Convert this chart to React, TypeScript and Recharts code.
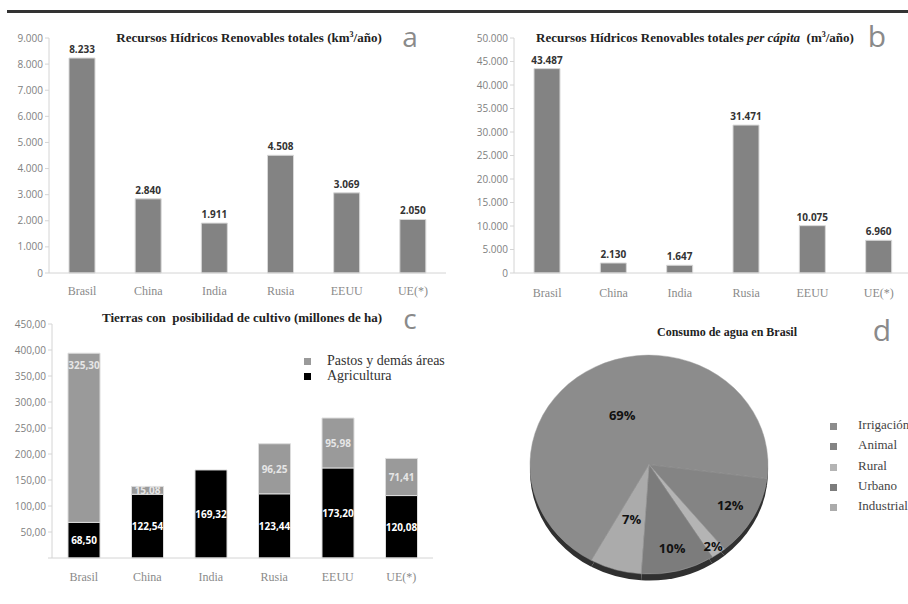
import React from 'react';
import { BarChart, Bar, XAxis, YAxis, LabelList, PieChart, Pie, Cell } from 'recharts';

// ---------- data ----------
const categories = ['Brasil', 'China', 'India', 'Rusia', 'EEUU', 'UE(*)'];
const totalRenewable = [8233, 2840, 1911, 4508, 3069, 2050];
const perCapita = [43487, 2130, 1647, 31471, 10075, 6960];
const agricultura = [68.5, 122.54, 169.32, 123.44, 173.2, 120.08];
const pastos = [325.3, 15.08, 0, 96.25, 95.98, 71.41];
const ticksA = [0, 1000, 2000, 3000, 4000, 5000, 6000, 7000, 8000, 9000];
const ticksB = [0, 5000, 10000, 15000, 20000, 25000, 30000, 35000, 40000, 45000, 50000];
const ticksC = [0, 50, 100, 150, 200, 250, 300, 350, 400, 450];
const usoNames = ['Irrigación', 'Animal', 'Rural', 'Urbano', 'Industrial'];
const usoPct = [69, 12, 2, 10, 7];

const dataA = categories.map((c, i) => ({ name: c, value: totalRenewable[i] }));
const dataB = categories.map((c, i) => ({ name: c, value: perCapita[i] }));
const dataC = categories.map((c, i) => ({ name: c, agri: agricultura[i], pastos: pastos[i] }));
const dataD = usoNames.map((n, i) => ({ name: n, value: usoPct[i] }));

// ---------- styles ----------
const SERIF = '"Liberation Serif", "DejaVu Serif", serif';
const SANS = '"Open Sans", "Liberation Sans", sans-serif';
const pieColors = ['#8c8c8c', '#848484', '#b4b4b4', '#7c7c7c', '#ababab'];
const pieLabelR = [0.5, 0.78, 0.92, 0.79, 0.52];

const thousands = (v: number) => String(v).replace(/\B(?=(\d{3})+(?!\d))/g, '.');
const comma2 = (v: number) => v.toFixed(2).replace('.', ',');

const yTick = { fontFamily: SANS, fontSize: 10, fill: '#808080' };
const xTick = { fontFamily: SERIF, fontSize: 12, fill: '#8a8a8a' };
const axisLine = { stroke: '#d4d4d4' };

const titleStyle: React.CSSProperties = {
  position: 'absolute',
  fontFamily: SERIF,
  fontWeight: 'bold',
  fontSize: 13,
  color: '#222',
  whiteSpace: 'nowrap',
  transform: 'translate(-50%, -50%)',
};
const letterStyle: React.CSSProperties = {
  position: 'absolute',
  fontFamily: SANS,
  fontSize: 28,
  color: '#8a8a8a',
  transform: 'translate(-50%, -50%)',
  lineHeight: 1,
};

const CLabelGray = (props: any) => {
  const { x, y, width, height, value } = props;
  if (!value) return null;
  const ty = height > 100 ? y + 12 : y + height / 2;
  return (
    <text x={x + width / 2} y={ty} textAnchor="middle" dominantBaseline="central"
      fontFamily={SANS} fontWeight="bold" fontSize={10} fill="#e6e6e6">{comma2(value)}</text>
  );
};
const CLabelBlack = (props: any) => {
  const { x, y, width, height, value } = props;
  return (
    <text x={x + width / 2} y={y + height / 2} textAnchor="middle" dominantBaseline="central"
      fontFamily={SANS} fontWeight="bold" fontSize={10} fill="#ffffff">{comma2(value)}</text>
  );
};

const RAD = Math.PI / 180;
const PieLabel = (props: any) => {
  const { cx, cy, midAngle, outerRadius, index, value } = props;
  const r = outerRadius * pieLabelR[index];
  const x = cx + r * Math.cos(-midAngle * RAD);
  const y = cy + r * Math.sin(-midAngle * RAD);
  return (
    <text x={x} y={y} textAnchor="middle" dominantBaseline="central"
      fontFamily={SANS} fontWeight="bold" fontSize={13} fill="#111">{value}%</text>
  );
};

export default function App() {
  return (
    <div style={{ position: 'absolute', left: 0, top: 0, width: 908, height: 604, background: '#fff', overflow: 'hidden' }}>
      {/* top rule */}
      <div style={{ position: 'absolute', left: 7, top: 10, width: 901, height: 3, background: '#333' }} />

      {/* Panel a */}
      <div style={{ position: 'absolute', left: 0, top: 0 }}>
        <BarChart width={454} height={300} data={dataA} margin={{ top: 38, right: 8, bottom: 0, left: 0 }}>
          <YAxis width={49} domain={[0, 9000]} ticks={ticksA} tickFormatter={thousands} tick={yTick}
            axisLine={axisLine} tickLine={{ stroke: '#d4d4d4' }} tickSize={4} tickMargin={2} interval={0} />
          <XAxis dataKey="name" height={27} tick={xTick} axisLine={axisLine} tickLine={false} tickMargin={7} interval={0} />
          <Bar dataKey="value" fill="#838383" stroke="#d8d8d8" strokeWidth={1} barSize={26} isAnimationActive={false}>
            <LabelList dataKey="value" position="top" offset={5} formatter={(v: any) => thousands(v)}
              style={{ fontFamily: SANS, fontWeight: 'bold', fontSize: 10, fill: '#333' }} />
          </Bar>
        </BarChart>
      </div>
      <div style={{ ...titleStyle, left: 249, top: 38 }}>
        Recursos Hídricos Renovables totales (km<sup style={{ fontSize: 8 }}>3</sup>/año)
      </div>
      <div style={{ ...letterStyle, left: 410, top: 36 }}>a</div>

      {/* Panel b */}
      <div style={{ position: 'absolute', left: 454, top: 0 }}>
        <BarChart width={454} height={300} data={dataB} margin={{ top: 38, right: -4, bottom: 0, left: 0 }}>
          <YAxis width={60} domain={[0, 50000]} ticks={ticksB} tickFormatter={thousands} tick={yTick}
            axisLine={axisLine} tickLine={{ stroke: '#d4d4d4' }} tickSize={4} tickMargin={2} interval={0} />
          <XAxis dataKey="name" height={27} tick={xTick} axisLine={axisLine} tickLine={false} tickMargin={9} interval={0} />
          <Bar dataKey="value" fill="#838383" stroke="#d8d8d8" strokeWidth={1} barSize={26} isAnimationActive={false}>
            <LabelList dataKey="value" position="top" offset={5} formatter={(v: any) => thousands(v)}
              style={{ fontFamily: SANS, fontWeight: 'bold', fontSize: 10, fill: '#333' }} />
          </Bar>
        </BarChart>
      </div>
      <div style={{ ...titleStyle, left: 695, top: 38 }}>
        Recursos Hídricos Renovables totales <i>per cápita</i> &nbsp;(m<sup style={{ fontSize: 8 }}>3</sup>/año)
      </div>
      <div style={{ ...letterStyle, left: 877, top: 36, fontSize: 30 }}>b</div>

      {/* Panel c */}
      <div style={{ position: 'absolute', left: 0, top: 300 }}>
        <BarChart width={454} height={304} data={dataC} margin={{ top: 24, right: 21, bottom: 0, left: 0 }}>
          <YAxis width={52} domain={[0, 450]} ticks={ticksC} tickFormatter={(v: number) => (v === 0 ? '' : comma2(v))}
            tick={yTick} axisLine={axisLine} tickLine={{ stroke: '#d4d4d4' }} tickSize={4} tickMargin={2} interval={0} />
          <XAxis dataKey="name" height={46} tick={xTick} axisLine={axisLine} tickLine={false} tickMargin={8} interval={0} />
          <Bar dataKey="agri" stackId="s" fill="#000000" stroke="#dcdcdc" strokeWidth={1} barSize={32} isAnimationActive={false}>
            <LabelList dataKey="agri" content={CLabelBlack} />
          </Bar>
          <Bar dataKey="pastos" stackId="s" fill="#9a9a9a" stroke="#dcdcdc" strokeWidth={1} barSize={32} isAnimationActive={false}>
            <LabelList dataKey="pastos" content={CLabelGray} />
          </Bar>
        </BarChart>
      </div>
      <div style={{ ...titleStyle, left: 242, top: 318 }}>
        Tierras con &nbsp;posibilidad de cultivo (millones de ha)
      </div>
      <div style={{ ...letterStyle, left: 410, top: 318 }}>c</div>
      <div style={{ position: 'absolute', left: 304, top: 358, width: 7, height: 7, background: '#9a9a9a' }} />
      <div style={{ position: 'absolute', left: 304, top: 373, width: 7, height: 7, background: '#000' }} />
      <div style={{ position: 'absolute', left: 327, top: 352, fontFamily: SERIF, fontSize: 14, color: '#333', lineHeight: '17px', whiteSpace: 'nowrap' }}>
        <div>Pastos y demás áreas</div>
        <div style={{ marginTop: -2 }}>Agricultura</div>
      </div>

      {/* Panel d */}
      <div style={{ position: 'absolute', left: 454, top: 300, transform: 'scaleY(0.92)', transformOrigin: '0px 160px' }}>
        <PieChart width={454} height={304}>
          <Pie data={dataD} dataKey="value" nameKey="name" cx={190} cy={167} outerRadius={119}
            startAngle={241} endAngle={-119} fill="#303030" stroke="none" isAnimationActive={false} />
          <Pie data={dataD} dataKey="value" nameKey="name" cx={190} cy={160} outerRadius={119}
            startAngle={241} endAngle={-119} stroke="#a0a0a0" strokeWidth={0.5} isAnimationActive={false}
            label={PieLabel} labelLine={false}>
            {dataD.map((d, i) => (
              <Cell key={d.name} fill={pieColors[i]} />
            ))}
          </Pie>
        </PieChart>
      </div>
      <div style={{ ...titleStyle, left: 727, top: 332, fontSize: 12 }}>Consumo de agua en Brasil</div>
      <div style={{ ...letterStyle, left: 882, top: 330, fontSize: 30 }}>d</div>
      {usoNames.map((n, i) => (
        <React.Fragment key={n}>
          <div style={{ position: 'absolute', left: 830, top: 423 + i * 20.3, width: 7, height: 7, background: pieColors[i] }} />
          <div style={{ position: 'absolute', left: 858, top: 417 + i * 20.3, fontFamily: SERIF, fontSize: 13, color: '#444', lineHeight: '16px', whiteSpace: 'nowrap' }}>{n}</div>
        </React.Fragment>
      ))}
    </div>
  );
}
